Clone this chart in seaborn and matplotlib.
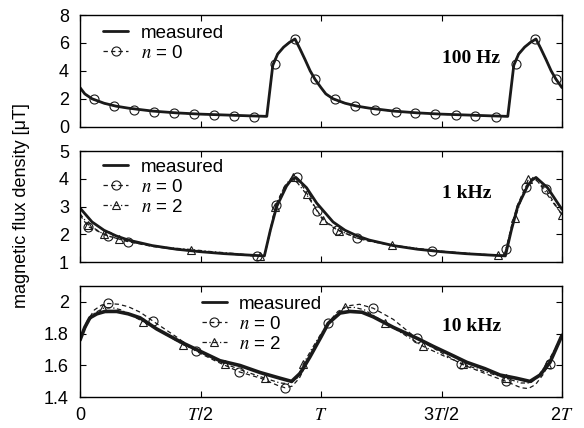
import matplotlib
matplotlib.use('Agg')
import matplotlib.pyplot as plt
import seaborn as sns
from matplotlib.lines import Line2D
from matplotlib.ticker import FixedLocator, FixedFormatter

# ---------------- data (time in units of T) ----------------
# 100 Hz panel
t_top = [0, 0.02, 0.05, 0.1, 0.15, 0.2, 0.3, 0.4, 0.5, 0.6, 0.7, 0.775, 0.80, 0.82, 0.845, 0.87, 0.892, 0.912, 0.934, 0.955, 0.975,
         1.0, 1.02, 1.05, 1.1, 1.15, 1.2, 1.3, 1.4, 1.5, 1.6, 1.7, 1.775, 1.80, 1.82, 1.845, 1.87, 1.892, 1.912, 1.934, 1.955, 1.975, 2.0]
meas_top = [2.8, 2.35, 2.0, 1.68, 1.47, 1.33, 1.12, 0.99, 0.90, 0.84, 0.78, 0.74, 4.4, 5.2, 5.7, 6.05, 6.28, 5.6, 4.8, 4.0, 3.4,
            2.8, 2.35, 2.0, 1.68, 1.47, 1.33, 1.12, 0.99, 0.90, 0.84, 0.78, 0.74, 4.4, 5.2, 5.7, 6.05, 6.28, 5.6, 4.8, 4.0, 3.4, 2.8]
n0_top = [2.78, 2.33, 1.98, 1.66, 1.46, 1.32, 1.11, 0.98, 0.89, 0.83, 0.77, 0.73, 4.45, 5.25, 5.72, 6.08, 6.3, 5.62, 4.8, 4.0, 3.4,
          2.78, 2.33, 1.98, 1.66, 1.46, 1.32, 1.11, 0.98, 0.89, 0.83, 0.77, 0.73, 4.45, 5.25, 5.72, 6.08, 6.3, 5.62, 4.8, 4.0, 3.4, 2.78]
mk_t_top_n0 = [0.058, 0.142, 0.225, 0.307, 0.39, 0.473, 0.556, 0.64, 0.722, 0.808, 0.892, 0.975,
               1.058, 1.14, 1.225, 1.31, 1.39, 1.475, 1.56, 1.64, 1.726, 1.81, 1.89, 1.975]
mk_v_top_n0 = [1.95, 1.45, 1.22, 1.05, 0.95, 0.88, 0.82, 0.77, 0.72, 4.5, 6.3, 3.4,
               1.95, 1.45, 1.22, 1.05, 0.95, 0.88, 0.82, 0.77, 0.72, 4.5, 6.3, 3.4]

# 1 kHz panel
t_mid = [0, 0.05, 0.1, 0.15, 0.2, 0.3, 0.4, 0.5, 0.6, 0.7, 0.765, 0.79, 0.816, 0.857, 0.875, 0.896, 0.94, 0.982,
         1.0, 1.05, 1.1, 1.15, 1.2, 1.3, 1.4, 1.5, 1.6, 1.7, 1.765, 1.79, 1.816, 1.857, 1.875, 1.892, 1.94, 1.982, 2.0]
meas_mid = [2.95, 2.45, 2.15, 1.95, 1.8, 1.6, 1.47, 1.38, 1.31, 1.26, 1.23, 2.16, 3.0, 3.74, 3.95, 4.05, 3.68, 3.13,
            2.95, 2.45, 2.15, 1.95, 1.8, 1.6, 1.47, 1.38, 1.31, 1.26, 1.23, 2.16, 3.0, 3.74, 3.95, 4.05, 3.68, 3.13, 2.9]
t_mid_n0 = [0, 0.034, 0.115, 0.2, 0.3, 0.4, 0.5, 0.6, 0.733, 0.765, 0.79, 0.813, 0.85, 0.899, 0.94, 0.985,
            1.0, 1.034, 1.068, 1.15, 1.2, 1.3, 1.459, 1.6, 1.733, 1.755, 1.768, 1.79, 1.815, 1.849, 1.88, 1.932, 1.97, 2.0]
n0_mid = [2.7, 2.28, 1.95, 1.74, 1.57, 1.46, 1.38, 1.31, 1.22, 1.22, 2.2, 3.07, 3.75, 4.08, 3.5, 2.85,
          2.65, 2.35, 2.16, 1.86, 1.76, 1.6, 1.41, 1.32, 1.24, 1.25, 1.47, 2.3, 3.05, 3.72, 4.05, 3.64, 3.1, 2.7]
mk_t_mid_n0 = [0.034, 0.115, 0.2, 0.733, 0.813, 0.899, 0.985, 1.068, 1.15, 1.459, 1.768, 1.849, 1.932]
mk_v_mid_n0 = [2.28, 1.95, 1.74, 1.22, 3.07, 4.08, 2.85, 2.16, 1.86, 1.41, 1.47, 3.72, 3.64]
t_mid_n2 = [0, 0.035, 0.1, 0.163, 0.25, 0.35, 0.46, 0.55, 0.65, 0.747, 0.765, 0.79, 0.81, 0.85, 0.882, 0.94,
            1.007, 1.076, 1.15, 1.2, 1.293, 1.4, 1.5, 1.6, 1.736, 1.76, 1.78, 1.805, 1.86, 1.89, 1.95, 2.0]
n2_mid = [2.75, 2.35, 2.0, 1.83, 1.66, 1.54, 1.46, 1.38, 1.31, 1.22, 1.22, 2.1, 3.0, 3.75, 4.08, 3.44,
          2.53, 2.14, 1.87, 1.77, 1.62, 1.5, 1.4, 1.33, 1.25, 1.26, 1.9, 2.59, 3.98, 4.02, 3.3, 2.71]
mk_t_mid_n2 = [0.035, 0.1, 0.163, 0.46, 0.747, 0.81, 0.882, 0.94, 1.007, 1.076, 1.293, 1.736, 1.805, 1.86, 1.999]
mk_v_mid_n2 = [2.35, 2.0, 1.83, 1.46, 1.22, 3.0, 4.08, 3.44, 2.53, 2.14, 1.62, 1.25, 2.59, 3.98, 2.71]

# 10 kHz panel
t_bot = [0, 0.02, 0.041, 0.07, 0.104, 0.152, 0.2, 0.249, 0.318, 0.415, 0.498, 0.581, 0.664, 0.747, 0.83, 0.878, 0.913, 0.954,
         1.0, 1.03, 1.079, 1.12, 1.17, 1.217, 1.3, 1.4, 1.466, 1.55, 1.605, 1.68, 1.743, 1.81, 1.867, 1.909, 1.95, 2.0]
meas_bot = [1.76, 1.84, 1.9, 1.925, 1.94, 1.94, 1.925, 1.9, 1.83, 1.75, 1.69, 1.63, 1.60, 1.556, 1.52, 1.50, 1.55, 1.654,
            1.78, 1.865, 1.93, 1.94, 1.935, 1.906, 1.84, 1.77, 1.72, 1.66, 1.62, 1.58, 1.54, 1.52, 1.50, 1.54, 1.62, 1.79]
t_bot_n0 = [0, 0.03, 0.06, 0.09, 0.118, 0.16, 0.2, 0.25, 0.302, 0.4, 0.481, 0.56, 0.661, 0.75, 0.82, 0.851, 0.88, 0.91, 0.95,
            1.0, 1.03, 1.07, 1.11, 1.16, 1.217, 1.3, 1.397, 1.5, 1.581, 1.68, 1.768, 1.83, 1.86, 1.89, 1.92, 1.95, 2.0]
n0_bot = [1.78, 1.88, 1.95, 1.98, 1.99, 1.985, 1.97, 1.935, 1.88, 1.78, 1.69, 1.63, 1.56, 1.52, 1.475, 1.46, 1.47, 1.52, 1.64,
          1.78, 1.87, 1.94, 1.975, 1.985, 1.96, 1.89, 1.77, 1.68, 1.61, 1.55, 1.50, 1.46, 1.455, 1.48, 1.54, 1.62, 1.78]
mk_t_bot_n0 = [0.118, 0.302, 0.481, 0.661, 0.851, 1.03, 1.217, 1.397, 1.581, 1.768, 1.95]
mk_v_bot_n0 = [1.99, 1.88, 1.69, 1.56, 1.46, 1.87, 1.96, 1.77, 1.61, 1.50, 1.61]
t_bot_n2 = [0, 0.03, 0.06, 0.097, 0.13, 0.17, 0.263, 0.35, 0.429, 0.52, 0.602, 0.69, 0.768, 0.83, 0.87, 0.9, 0.927, 0.96,
            1.0, 1.04, 1.07, 1.1, 1.14, 1.18, 1.266, 1.35, 1.425, 1.51, 1.59, 1.68, 1.768, 1.83, 1.87, 1.9, 1.936, 1.97, 2.0]
n2_bot = [1.77, 1.86, 1.93, 1.96, 1.965, 1.95, 1.875, 1.80, 1.73, 1.67, 1.61, 1.56, 1.52, 1.49, 1.485, 1.52, 1.61, 1.70,
          1.80, 1.88, 1.93, 1.965, 1.965, 1.95, 1.87, 1.79, 1.72, 1.66, 1.61, 1.56, 1.52, 1.49, 1.49, 1.53, 1.61, 1.70, 1.80]
mk_t_bot_n2 = [0.097, 0.263, 0.429, 0.602, 0.768, 0.927, 1.1, 1.266, 1.425, 1.59, 1.768, 1.936]
mk_v_bot_n2 = [1.96, 1.875, 1.73, 1.61, 1.52, 1.61, 1.97, 1.87, 1.72, 1.61, 1.52, 1.61]

x_ticks = [0, 0.5, 1, 1.5, 2]
x_ticklabels = ['0', r'$T$/2', r'$T$', r'3$T$/2', r'2$T$']
panel_labels = ['100 Hz', '1 kHz', '10 kHz']
legend_labels = ['measured', r'$n$ = 0', r'$n$ = 2']
ylabel = 'magnetic flux density [\u03bcT]'

# ---------------- style ----------------
sns.set_theme(style='ticks')
plt.rcParams['font.family'] = ['Liberation Sans', 'DejaVu Sans']
plt.rcParams['mathtext.fontset'] = 'stix'
plt.rcParams['axes.linewidth'] = 1.0
plt.rcParams['axes.edgecolor'] = 'black'
plt.rcParams['text.color'] = 'black'
plt.rcParams['axes.labelcolor'] = 'black'
plt.rcParams['xtick.color'] = 'black'
plt.rcParams['ytick.color'] = 'black'

FS = 13
W, H = 584, 428
fig = plt.figure(figsize=(W / 100, H / 100), dpi=100)

def axrect(top_px, bot_px, left_px=80, right_px=562):
    return [left_px / W, 1 - bot_px / H, (right_px - left_px) / W, (bot_px - top_px) / H]

ax1 = fig.add_axes(axrect(15, 126.7))
ax2 = fig.add_axes(axrect(151, 262.3))
ax3 = fig.add_axes(axrect(286, 397.3))

DASH0 = (0, (3.5, 2.5))
DASH2 = (0, (3.5, 2, 1, 2))
LW_MODEL = 0.9

def line(ax, t, v, **kw):
    sns.lineplot(x=t, y=v, ax=ax, estimator=None, sort=False, legend=False, color='k', **kw)

def marks(ax, t, v, m, ms):
    sns.lineplot(x=t, y=v, ax=ax, estimator=None, sort=False, legend=False, color='k',
                 marker=m, linestyle='none', mfc='none', mec='k', ms=ms, mew=0.8)

# top
line(ax1, t_top, meas_top, linewidth=2.0)
line(ax1, t_top, n0_top, linewidth=LW_MODEL, linestyle=DASH0)
marks(ax1, mk_t_top_n0, mk_v_top_n0, 'o', 6.5)
# middle
line(ax2, t_mid, meas_mid, linewidth=2.0)
line(ax2, t_mid_n0, n0_mid, linewidth=LW_MODEL, linestyle=DASH0)
line(ax2, t_mid_n2, n2_mid, linewidth=LW_MODEL, linestyle=DASH2)
marks(ax2, mk_t_mid_n0, mk_v_mid_n0, 'o', 6.5)
marks(ax2, mk_t_mid_n2, mk_v_mid_n2, '^', 5.5)
# bottom
line(ax3, t_bot, meas_bot, linewidth=2.6)
line(ax3, t_bot_n0, n0_bot, linewidth=LW_MODEL, linestyle=DASH0)
line(ax3, t_bot_n2, n2_bot, linewidth=LW_MODEL, linestyle=DASH2)
marks(ax3, mk_t_bot_n0, mk_v_bot_n0, 'o', 6.5)
marks(ax3, mk_t_bot_n2, mk_v_bot_n2, '^', 5.5)

ylims = [(0, 8), (1, 5), (1.4, 2.1)]
yticks = [[0, 2, 4, 6, 8], [1, 2, 3, 4, 5], [1.4, 1.6, 1.8, 2.0]]
yticklabels = [['0', '2', '4', '6', '8'], ['1', '2', '3', '4', '5'], ['1.4', '1.6', '1.8', '2']]
label_pos = [(0.751, 0.615), (0.751, 0.62), (0.75, 0.632)]

for i, ax in enumerate([ax1, ax2, ax3]):
    ax.set_xlim(0, 2)
    ax.set_ylim(*ylims[i])
    ax.xaxis.set_major_locator(FixedLocator(x_ticks))
    ax.yaxis.set_major_locator(FixedLocator(yticks[i]))
    ax.yaxis.set_major_formatter(FixedFormatter(yticklabels[i]))
    if i == 2:
        ax.xaxis.set_major_formatter(FixedFormatter(x_ticklabels))
    else:
        ax.set_xticklabels([])
    ax.tick_params(direction='in', top=True, right=True, length=4, width=0.8,
                   labelsize=FS, colors='black')
    ax.tick_params(axis='y', pad=8)
    ax.tick_params(axis='x', pad=7)
    ax.set_xlabel('')
    ax.set_ylabel('')
    for s in ax.spines.values():
        s.set_color('black')
        s.set_linewidth(1.0)
    ax.text(label_pos[i][0], label_pos[i][1], panel_labels[i], transform=ax.transAxes,
            ha='left', va='center', fontfamily='Liberation Serif', fontweight='bold', fontsize=14)

h_meas = Line2D([], [], color='k', lw=2.0)
h_n0 = Line2D([], [], color='k', lw=LW_MODEL, ls=DASH0, marker='o', mfc='none', mec='k', ms=6.5, mew=0.8)
h_n2 = Line2D([], [], color='k', lw=LW_MODEL, ls=DASH2, marker='^', mfc='none', mec='k', ms=5.5, mew=0.8)

leg_kw = dict(frameon=False, fontsize=13.5, handlelength=1.35, handletextpad=0.65,
              labelspacing=0.16, borderpad=0, borderaxespad=0, loc='upper left', labelcolor='black')
ax1.legend([h_meas, h_n0], legend_labels[:2], bbox_to_anchor=(0.048, 0.915), **leg_kw)
ax2.legend([h_meas, h_n0, h_n2], legend_labels, bbox_to_anchor=(0.048, 0.933), **leg_kw)
ax3.legend([h_meas, h_n0, h_n2], legend_labels, bbox_to_anchor=(0.2525, 0.914), **leg_kw)

fig.text(22 / W, 1 - 206 / H, ylabel, rotation=90, ha='center', va='center', fontsize=13, color='black')

fig.savefig('out.png', dpi=100)
